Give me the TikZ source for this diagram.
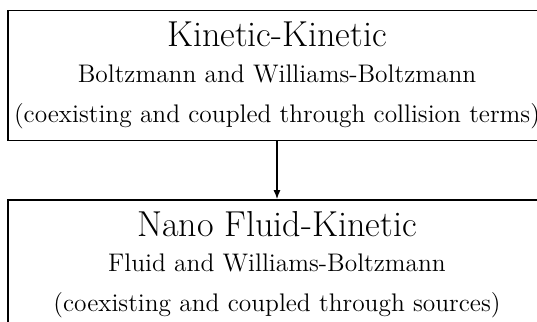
\documentclass[tikz,border=0pt]{standalone}
\usetikzlibrary{arrows.meta}
\begin{document}
\begin{tikzpicture}[x=0.4878pt,y=-0.4878pt,
  box/.style={draw, line width=0.7pt, rectangle, inner sep=0pt, minimum width=262.4pt},
  titletext/.style={anchor=base, font=\fontsize{17.6}{20}\selectfont, inner sep=0pt},
  subtext/.style={anchor=base, font=\fontsize{12.4}{14}\selectfont, inner sep=0pt},
  conn/.style={line width=0.7pt, -{Latex[length=4.4pt,width=3.4pt]}}]
\useasboundingbox (0,0) rectangle (537,322);
\node[box, minimum height=63.4pt] (top) at (277,75.7) {};
\node[box, minimum height=73.2pt] (bot) at (277,275) {};
\node[titletext] (t1) at (277,47) {Kinetic-Kinetic};
\node[subtext] (t2) at (277,83) {Boltzmann and Williams-Boltzmann};
\node[subtext] (t3) at (277,123) {(coexisting and coupled through collision terms)};
\node[titletext] (b1) at (277,237) {Nano Fluid-Kinetic};
\node[subtext] (b2) at (277,272) {Fluid and Williams-Boltzmann};
\node[subtext] (b3) at (277,312) {(coexisting and coupled through sources)};
\draw[conn] (top.south) -- (bot.north);
\end{tikzpicture}
\end{document}
